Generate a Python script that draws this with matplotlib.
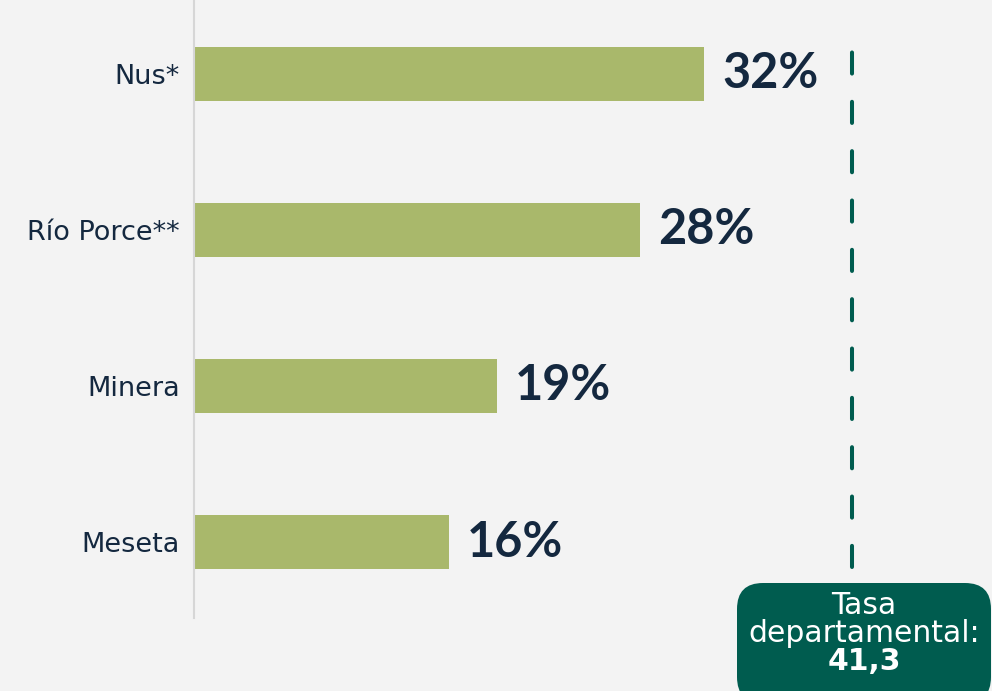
import matplotlib.pyplot as plt
from matplotlib.patches import FancyBboxPatch

# Datos
categorias = ["Nus*", "Río Porce**", "Minera", "Meseta"]
valores = [32, 28, 19, 16]
tasa_departamental = 41.3
texto_tasa = "41,3"

verde_barra = "#a9b86b"
azul_texto = "#14283f"
verde_oscuro = "#005c4f"
fondo = "#f3f3f3"

plt.rcParams["font.family"] = ["DejaVu Sans"]

W, H = 992, 691
fig = plt.figure(figsize=(W / 100, H / 100), dpi=100)
fig.patch.set_facecolor(fondo)

# ejes: borde izquierdo en x=194 px, de y=0 a y=618 px
ax = fig.add_axes([194 / W, (H - 618) / H, (W - 194) / W, 618 / H])
ax.set_facecolor("none")

pos = list(range(len(categorias)))
ax.barh(pos, valores, height=0.346, color=verde_barra)
ax.set_ylim(3.487, -0.474)
ax.set_xlim(0, (W - 194) / 15.94)

for p, v in zip(pos, valores):
    ax.annotate(f"{v}%", (v, p), xytext=(13, 0), textcoords="offset points",
                va="center", ha="left", fontsize=35, fontweight="bold",
                color=azul_texto, family=["Lato", "DejaVu Sans"])

ax.set_yticks(pos)
ax.set_yticklabels(categorias, fontsize=19.5, color=azul_texto)
ax.tick_params(axis="y", length=0, pad=10)
ax.set_xticks([])
for s in ["top", "right", "bottom"]:
    ax.spines[s].set_visible(False)
ax.spines["left"].set_color("#d6d6d6")
ax.spines["left"].set_linewidth(1.5)

# línea de la tasa departamental
ax.axvline(tasa_departamental, ymin=51 / 618, ymax=(618 - 26) / 618,
           color=verde_oscuro, linewidth=2.9, dashes=(5.25, 7),
           dash_capstyle="round")

# caja con la tasa
overlay = fig.add_axes([0, 0, 1, 1])
overlay.set_xlim(0, W)
overlay.set_ylim(H, 0)
overlay.axis("off")
overlay.patch.set_alpha(0)
xc = 864
caja = FancyBboxPatch((xc - 127 + 26, 583 + 26), 254 - 52, 120 - 52,
                      boxstyle="round,pad=26", facecolor=verde_oscuro,
                      edgecolor="none")
overlay.add_patch(caja)
overlay.text(xc, 606, "Tasa", ha="center", va="center", color="white",
             fontsize=21.5)
overlay.text(xc, 633, "departamental:", ha="center", va="center",
             color="white", fontsize=21.5)
overlay.text(xc, 661, texto_tasa, ha="center", va="center", color="white",
             fontsize=21.5, fontweight="bold")

fig.savefig("out.png", dpi=100, facecolor=fondo)
